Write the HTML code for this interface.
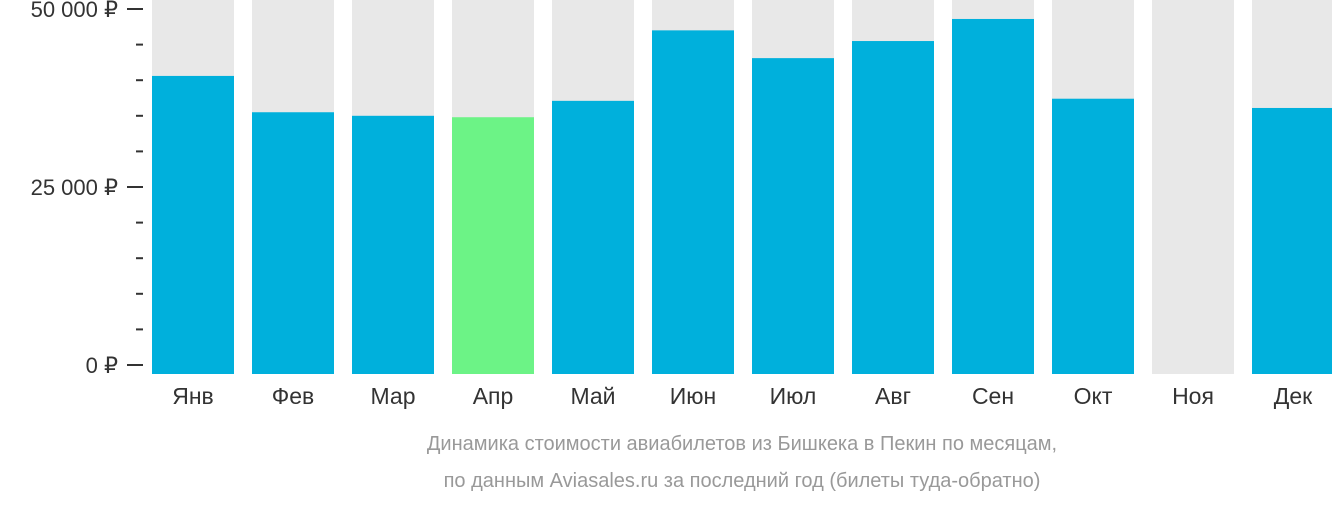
<!DOCTYPE html>
<html><head><meta charset="utf-8"><style>
body{margin:0;background:#fff;font-family:"Liberation Sans","DejaVu Sans",sans-serif}
</style></head><body>
<svg id="chart" width="1332" height="502" xmlns="http://www.w3.org/2000/svg"></svg>
<script>
const months=["Янв","Фев","Мар","Апр","Май","Июн","Июл","Авг","Сен","Окт","Ноя","Дек"];
const prices=[40600,35500,35000,34800,37100,47000,43100,45500,48600,37400,0,36100];
const highlight=[false,false,false,true,false,false,false,false,false,false,false,false];
const majorTicks=[0,25000,50000];
const majorLabels=["0 ₽","25 000 ₽","50 000 ₽"];
const minorTicks=[5000,10000,15000,20000,30000,35000,40000,45000];
const captionLines=["Динамика стоимости авиабилетов из Бишкека в Пекин по месяцам,","по данным Aviasales.ru за последний год (билеты туда-обратно)"];
const NS="http://www.w3.org/2000/svg";
const svg=document.getElementById('chart');
const y0=365,pxPer=356/50000;
const y=v=>y0-v*pxPer;
const x=i=>152+i*100;
function mk(tag,attrs,parent){const e=document.createElementNS(NS,tag);for(const k in attrs)e.setAttribute(k,attrs[k]);(parent||svg).appendChild(e);return e;}
months.forEach((m,i)=>{
  const bg=mk('rect',{x:x(i),y:0,width:82,height:374,fill:'#e8e8e8'});
  
  
  if(prices[i]>0){
    const b=mk('rect',{x:x(i),y:y(prices[i]),width:82,height:374-y(prices[i]),fill:highlight[i]?'#6cf386':'#00b0dc'});
    
    
  }
  const t=mk('text',{x:x(i)+41,y:404,'text-anchor':'middle','font-size':23,fill:'#333'});
  t.textContent=m;
  
  
});
majorTicks.forEach((v,i)=>{
  const l=mk('line',{x1:127,x2:143,y1:y(v),y2:y(v),stroke:'#333','stroke-width':2});
  
  
  const t=mk('text',{x:118,y:y(v)+8,'text-anchor':'end','font-size':22,fill:'#333'});
  t.textContent=majorLabels[i];
  
  
});
minorTicks.forEach(v=>{
  const l=mk('line',{x1:136,x2:143,y1:y(v),y2:y(v),stroke:'#333','stroke-width':2});
  
  
});
captionLines.forEach((c,i)=>{
  const t=mk('text',{x:742,y:450+i*37,'text-anchor':'middle','font-size':20,fill:'#999'});
  t.textContent=c;
  
  
});
</script>
</body></html>
